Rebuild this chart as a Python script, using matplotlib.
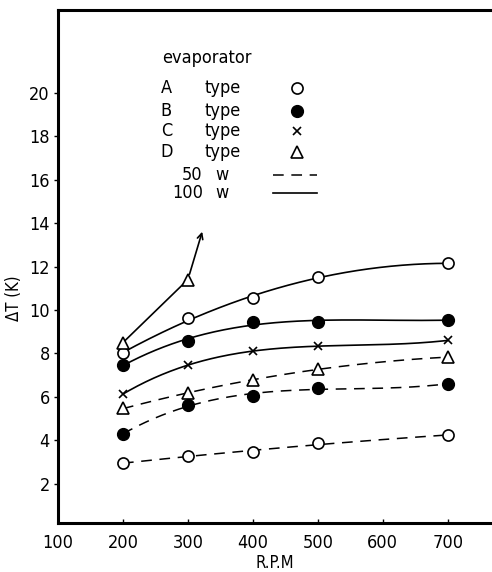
import numpy as np
import matplotlib
matplotlib.use("Agg")
import matplotlib.pyplot as plt
from matplotlib import font_manager as fm

# ---------------- data ----------------
rpm = [200, 300, 400, 500, 700]

a_100w = [8.0, 9.63, 10.55, 11.5, 12.15]
b_100w = [7.47, 8.57, 9.45, 9.45, 9.54]
c_100w = [6.13, 7.47, 8.1, 8.34, 8.6]
d_100w_rpm = [200, 300]
d_100w = [8.5, 11.4]
d_100w_arrow_tip = (322, 13.6)

d_50w = [5.47, 6.17, 6.8, 7.27, 7.83]
b_50w = [4.28, 5.65, 6.05, 6.4, 6.6]
a_50w = [2.95, 3.3, 3.45, 3.87, 4.24]

xticks = [100, 200, 300, 400, 500, 600, 700]
yticks = [2, 4, 6, 8, 10, 12, 14, 16, 18, 20]

legend_types = ["A", "B", "C", "D"]
legend_powers = ["50", "100"]

# ---------------- font ----------------
names = {f.name for f in fm.fontManager.ttflist}
font_kw = {"family": "DejaVu Sans"}
if "Liberation Sans Narrow" in names:
    font_kw = {"family": "Liberation Sans Narrow"}
else:
    cond = [f for f in fm.fontManager.ttflist
            if f.name == "DejaVu Sans" and "ondensed" in f.fname]
    if cond:
        font_kw = {"family": "DejaVu Sans", "stretch": "condensed"}
plt.rcParams["font.family"] = font_kw["family"]
if "stretch" in font_kw:
    plt.rcParams["font.stretch"] = font_kw["stretch"]

FS = 13

fig = plt.figure(figsize=(4.92, 5.72), dpi=100)
ax = fig.add_axes([58 / 492, 1 - 523 / 572, (490 - 58) / 492, (523 - 10) / 572])
ax.set_xlim(100, 765)
ax.set_ylim(0.2, 23.8)

ax.spines["right"].set_visible(False)
for s in ["left", "bottom", "top"]:
    ax.spines[s].set_linewidth(2.2)

ax.set_xticks(xticks)
ax.set_yticks(yticks)
ax.tick_params(axis="x", direction="in", length=3, width=1, labelsize=FS, pad=8)
ax.tick_params(axis="y", direction="out", length=3, width=1, labelsize=FS, pad=3)

ax.set_xlabel("R.P.M", fontsize=12)
ax.xaxis.set_label_coords(0.502, -0.060)
ax.set_ylabel("ΔT (K)", fontsize=12)
ax.yaxis.set_label_coords(-0.081, 0.4386)

solid = dict(color="black", lw=1.2, linestyle="-")
dashed = dict(color="black", lw=1.1, linestyle=(0, (7, 5)))

def smooth(xs, ys, deg):
    c = np.polyfit(xs, ys, deg)
    xx = np.linspace(min(xs), max(xs), 200)
    return xx, np.polyval(c, xx)

open_c = dict(marker="o", ms=8, mfc="white", mec="black", mew=1.2, ls="none")
fill_c = dict(marker="o", ms=8.5, mfc="black", mec="black", ls="none")
cross = dict(marker="x", ms=5.5, mec="black", mew=1.2, ls="none")
tri = dict(marker="^", ms=8, mfc="white", mec="black", mew=1.2, ls="none")

# 100 W solid curves
for ys, deg, mk in [(a_100w, 2, open_c), (b_100w, 3, fill_c), (c_100w, 3, cross)]:
    xx, yy = smooth(rpm, ys, deg)
    ax.plot(xx, yy, **solid, zorder=2)
    ax.plot(rpm, ys, **mk, zorder=3)

# D type 100 W with arrow
ax.plot(d_100w_rpm, d_100w, **solid, zorder=2)
ax.plot(d_100w_rpm, d_100w, **tri, zorder=3)
ax.annotate("", xy=d_100w_arrow_tip, xytext=(d_100w_rpm[-1], d_100w[-1]),
            arrowprops=dict(arrowstyle="->", color="black", lw=1.2,
                            shrinkA=4, shrinkB=0))

# 50 W dashed curves
for ys, deg, mk in [(d_50w, 2, tri), (b_50w, 3, fill_c), (a_50w, 2, open_c)]:
    xx, yy = smooth(rpm, ys, deg)
    ax.plot(xx, yy, **dashed, zorder=2)
    ax.plot(rpm, ys, **mk, zorder=3)

# ---------------- legend (hand drawn) ----------------
ax.text(260, 21.6, "evaporator", fontsize=FS, va="center", ha="left")
row_y = [20.23, 19.17, 18.25, 17.28]
marks = [open_c, fill_c, cross, tri]
for t, y, mk in zip(legend_types, row_y, marks):
    ax.text(258, y, t, fontsize=FS, va="center", ha="left")
    ax.text(326, y, "type", fontsize=FS, va="center", ha="left")
    ax.plot([467.7], [y], **mk, clip_on=False)
pw_y = [16.22, 15.39]
for p, y, st in zip(legend_powers, pw_y, [dashed, solid]):
    ax.text(323, y, p, fontsize=FS, va="center", ha="right")
    ax.text(352, y, "w", fontsize=FS, va="center", ha="center")
    ax.plot([431, 498], [y, y], **st)

fig.savefig("out.png", dpi=100)
